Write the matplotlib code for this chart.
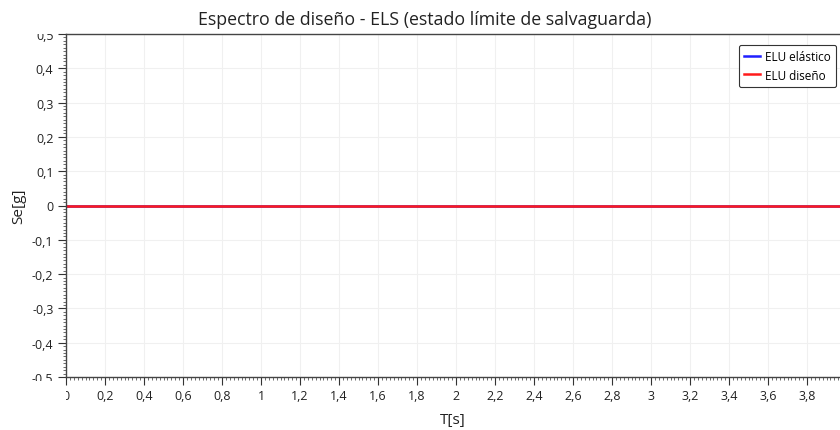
import matplotlib
matplotlib.use("Agg")
import matplotlib.pyplot as plt
from matplotlib.ticker import MultipleLocator, FuncFormatter
from matplotlib.transforms import Bbox

T = [0.0, 0.5, 1.0, 1.5, 2.0, 2.5, 3.0, 3.5, 4.0]
se_elastico = [0.0, 0.0, 0.0, 0.0, 0.0, 0.0, 0.0, 0.0, 0.0]
se_diseno = [0.0, 0.0, 0.0, 0.0, 0.0, 0.0, 0.0, 0.0, 0.0]

plt.rcParams['font.family'] = ['Open Sans', 'DejaVu Sans']

fig = plt.figure(figsize=(8.4, 4.31), dpi=100)
W, H = 840, 431
ax = fig.add_axes([66 / W, 1 - 378 / H, 1 - 66 / W, (378 - 35) / H])

ax.plot(T, se_elastico, color='#1f1fff', lw=1.8, label='ELU elástico')
ax.plot(T, se_diseno, color='#ff1a1a', lw=1.8, label='ELU diseño')

ax.set_xlim(0, (W - 66) / 195.0)
ax.set_ylim(-0.5, 0.5)

ax.xaxis.set_major_locator(MultipleLocator(0.2))
ax.xaxis.set_minor_locator(MultipleLocator(0.02))
ax.yaxis.set_major_locator(MultipleLocator(0.1))
ax.yaxis.set_minor_locator(MultipleLocator(0.01))

def fmt(v, pos):
    v = round(v, 2)
    if abs(v) < 1e-9:
        return '0'
    s = ('%.1f' % v).rstrip('0').rstrip('.')
    return s.replace('.', ',')

ax.xaxis.set_major_formatter(FuncFormatter(fmt))
ax.yaxis.set_major_formatter(FuncFormatter(fmt))

ax.tick_params(axis='both', which='major', length=6, width=0.8, labelsize=9,
               color='#333333', labelcolor='#222222', pad=3)
ax.tick_params(axis='both', which='minor', length=2.5, width=0.6, color='#555555')

ax.spines['right'].set_visible(False)
for s in ['left', 'top', 'bottom']:
    ax.spines[s].set_color('#444444')
    ax.spines[s].set_linewidth(1.0)

ax.grid(True, which='major', color='#f0f0f0', lw=0.8)
ax.set_axisbelow(True)

fig.text(425 / W, 1 - 20 / H, 'Espectro de diseño - ELS (estado límite de salvaguarda)',
         fontsize=12.8, color='#222222', ha='center', va='center')
ax.set_xlabel('T[s]', fontsize=11, color='#222222', labelpad=7)
ax.set_ylabel('Se[g]', fontsize=11, color='#222222', labelpad=4)

leg = ax.legend(loc='upper right', bbox_to_anchor=(0.998, 0.975), fontsize=8.5,
                frameon=True, fancybox=True, handlelength=1.3,
                handletextpad=0.45, borderpad=0.45, labelspacing=0.45,
                borderaxespad=0.2)
leg.get_frame().set_edgecolor('#333333')
leg.get_frame().set_linewidth(0.8)
leg.get_frame().set_alpha(1.0)

fig.canvas.draw()
clip = Bbox.from_extents(0, H - 382, W, H - 35)
for lbl in ax.get_yticklabels():
    lbl.set_clip_box(clip)
    lbl.set_clip_on(True)
clipx = Bbox.from_extents(66, 0, W, H)
for lbl in ax.get_xticklabels():
    lbl.set_clip_box(clipx)
    lbl.set_clip_on(True)

fig.savefig('out.png', dpi=100)
